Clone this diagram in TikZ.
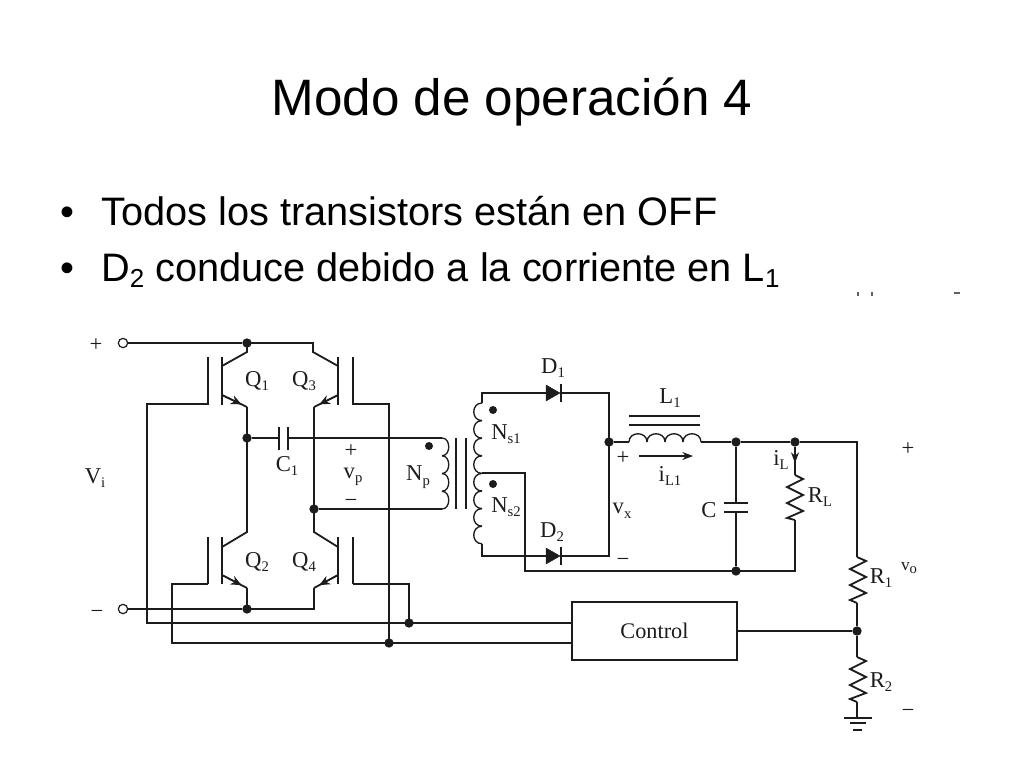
\documentclass[tikz,border=0pt]{standalone}
\usepackage{fontspec}
\setmainfont{Liberation Sans}
\newfontfamily\serf{Liberation Serif}
\usetikzlibrary{arrows.meta,calc}
\newcommand{\subs}[1]{\raisebox{-0.45ex}{\fontsize{11}{12}\selectfont #1}}
\newcommand{\bigsub}[1]{\raisebox{-0.33ex}{\fontsize{19.5}{21}\selectfont #1}}
\definecolor{ink}{HTML}{1C1C1C}
\tikzset{
  wire/.style={draw=ink,line width=1pt},
  thick wire/.style={draw=ink,line width=1.35pt},
  dot/.style={circle,fill=ink,inner sep=0pt,minimum size=7pt},
  term/.style={circle,draw=ink,fill=white,line width=0.9pt,inner sep=0pt,minimum size=7pt},
  lab/.style={inner sep=0pt,text=ink,font=\serf\fontsize{17}{18}\selectfont},
  sym/.style={inner sep=0pt,text=ink,font=\serf\fontsize{17}{18}\selectfont},
  head/.style={inner sep=0pt,anchor=base,font=\fontsize{38.4}{42}\selectfont},
  itemtext/.style={inner sep=0pt,anchor=base west,font=\fontsize{29.8}{32}\selectfont},
  ctrlbox/.style={draw=ink,line width=1pt,inner sep=0pt,minimum width=123.75pt,minimum height=43.5pt,text=ink,font=\serf\fontsize{16.7}{18}\selectfont},
  diodetri/.style={fill=ink,draw=ink,line width=0.3pt},
  emit/.style={wire,-{Stealth[length=8pt,width=7pt]}},
  speck/.style={draw=ink!70,line width=0.8pt}
}
\begin{document}
\begin{tikzpicture}[x=0.75pt,y=-0.75pt]
\useasboundingbox (0,0) rectangle (1024,768);
\fill[white] (0,0) rectangle (1024,768);

% headline and items
\node[head] (title) at (512,115) {Modo de operación 4};
\node[itemtext] (b1) at (60,225) {•};
\node[itemtext] (t1) at (101,225) {Todos los transistors están en OFF};
\node[itemtext] (b2) at (60,281) {•};
\node[itemtext] (t2) at (101,281) {D\bigsub{2} conduce debido a la corriente en L\bigsub{1}};

% junctions and terminals
\node[term] (tp) at (123,343) {};
\node[term] (tm) at (123,609) {};
\node[dot] (jtop) at (247,343) {};
\node[dot] (jmid) at (247,438) {};
\node[dot] (jbot) at (247,609) {};
\node[dot] (jq) at (314,509) {};
\node[dot] (jg4) at (409,623) {};
\node[dot] (jg3) at (389,643) {};
\node[dot] (jx) at (609,442) {};
\node[dot] (jc) at (736,442) {};
\node[dot] (jr) at (795,442) {};
\node[dot] (jcb) at (736,571) {};
\node[dot] (jfb) at (857,631) {};
\node[ctrlbox] (ctrl) at (654.5,631) {Control};

% transistor corners
\coordinate (q1c) at (222,366); \coordinate (q1e) at (222,395);
\coordinate (q3c) at (338,366); \coordinate (q3e) at (338,395);
\coordinate (q2c) at (222,547); \coordinate (q2e) at (222,575);
\coordinate (q4c) at (338,547); \coordinate (q4e) at (338,575);
\coordinate (q1k) at (247,407); \coordinate (q2k) at (247,532); \coordinate (q2l) at (247,588);
\coordinate (q3k) at (314,407); \coordinate (q4k) at (314,532); \coordinate (q4l) at (314,588);

% input rails
\draw[thick wire] (tp) -- (jtop);
\draw[thick wire] (jtop.center) -- (313,343) -- (313,352) -- (q3c);
\draw[thick wire] (jtop.center) -- (247,352) -- (q1c);
\draw[wire] (tm) -- (jbot);
\draw[thick wire] (jbot.center) -- (314,609) -- (q4l);

% transistor bars
\foreach \bx in {222,208,338,353}{
  \draw[thick wire] (\bx,357) -- (\bx,405);
  \draw[thick wire] (\bx,537) -- (\bx,584);
}
% emitters
\draw[thick wire] (q1e) -- (q1k);
\draw[thick wire] (q3e) -- (q3k);
\draw[thick wire] (q2e) -- (q2l);
\draw[thick wire] (q4e) -- (q4l);
\draw[emit] (q1e) -- ($(q1e)!0.78!(q1k)$);
\draw[emit] (q3e) -- ($(q3e)!0.78!(q3k)$) ;
\draw[emit] (q2e) -- ($(q2e)!0.78!(q2l)$);
\draw[emit] (q4e) -- ($(q4e)!0.78!(q4l)$);
% collectors to columns
\draw[thick wire] (q2c) -- (q2k) -- (jmid.center) -- (q1k);
\draw[thick wire] (q4c) -- (q4k) -- (jq.center) -- (q3k);
\draw[thick wire] (jbot.center) -- (q2l);

% gate wiring
\draw[wire] (208,404) -- (147,404) -- (147,623) -- (jg4.center) -- (ctrl.west |- jg4);
\draw[wire] (208,584) -- (172,584) -- (172,643) -- (jg3.center) -- (ctrl.west |- jg3);
\draw[wire] (353,404) -- (389,404) -- (jg3.center);
\draw[wire] (353,584) -- (409,584) -- (jg4.center);

% C1 and primary
\coordinate (c1a) at (279,438); \coordinate (c1b) at (288,438);
\draw[wire] (jmid) -- (c1a);
\draw[thick wire] (279,427) -- (279,450);
\draw[thick wire] (288,427) -- (288,450);
\coordinate (npt) at (442,438); \coordinate (npb) at (442,509);
\draw[wire] (c1b) -- (npt);
\draw[wire] (jq) -- (npb);
\foreach \i in {0,1,2,3}
  \draw[wire] (442,{438+17.75*\i}) .. controls (451,{438+17.75*\i}) and (451,{438+17.75*(\i+1)}) .. (442,{438+17.75*(\i+1)});
% core
\draw[thick wire] (456,438) -- (456,509);
\draw[thick wire] (466,438) -- (466,509);
% secondary
\foreach \i in {0,...,7}
  \draw[wire] (482,{403+17.6*\i}) .. controls (471,{403+17.6*\i}) and (471,{403+17.6*(\i+1)}) .. (482,{403+17.6*(\i+1)});
\coordinate (st) at (482,403); \coordinate (sm) at (482,473); \coordinate (sb) at (482,544);
\coordinate (d1l) at (546,393); \coordinate (d1r) at (560,393);
\coordinate (d2l) at (546,556); \coordinate (d2r) at (560,556);
\draw[wire] (st) -- (482,393) -- (d1l);
\draw[wire] (sb) -- (482,556) -- (d2l);
\draw[diodetri] (546,385) -- (546,401) -- (560,393) -- cycle;
\draw[diodetri] (546,548) -- (546,564) -- (560,556) -- cycle;
\draw[wire] (561,384) -- (561,402);
\draw[wire] (561,547) -- (561,565);
\draw[wire] (d1r) -- (609,393) -- (jx.center) -- (609,556) -- (d2r);
\draw[thick wire] (sm) -- (525,473) -- (525,571) -- (jcb.center);

% inductor
\coordinate (la) at (629,442); \coordinate (lb) at (701,442);
\draw[wire] (jx) -- (la);
\foreach \i in {0,1,2,3}
  \draw[wire] ({629+18*\i},442) .. controls ({629+18*\i},431) and ({629+18*(\i+1)},431) .. ({629+18*(\i+1)},442);
\draw[thick wire] (629,416) -- (700,416);
\draw[thick wire] (629,425) -- (700,425);
\coordinate (cur1) at (639,456); \coordinate (cur2) at (693,456);
\draw[wire,-{Stealth[length=8pt,width=6pt]}] (cur1) -- (cur2);

% output rails
\draw[thick wire] (lb) -- (jc) -- (jr) -- (857,442) -- (857,557);
\draw[thick wire] (jcb.center) -- (795,571) -- (795,520);

% output capacitor
\draw[wire] (jc) -- (736,503);
\draw[wire] (736,512) -- (jcb);
\draw[thick wire] (724,503) -- (748,503);
\draw[thick wire] (724,512) -- (748,512);

% RL
\draw[wire,-{Stealth[length=8pt,width=6pt]}] (jr) -- (795,463);
\draw[wire] (795,460) -- (795,475);
\draw[thick wire] (795,475) -- (803,479) -- (787,487) -- (803,495) -- (787,503) -- (803,511) -- (787,518) -- (795,520);

% R1, R2
\draw[thick wire] (857,557) -- (866,561) -- (850,569) -- (866,577) -- (850,585) -- (866,593) -- (850,600) -- (857,603);
\draw[wire] (857,603) -- (jfb);
\draw[wire] (jfb) -- (ctrl.east |- jfb);
\draw[wire] (jfb) -- (857,657);
\draw[thick wire] (857,657) -- (866,661) -- (850,669) -- (866,677) -- (850,685) -- (866,693) -- (850,699) -- (857,702);
\draw[wire] (857,702) -- (857,718);
% ground
\draw[thick wire] (844,718) -- (872,718);
\draw[wire] (850,723) -- (866,723);
\draw[wire] (853,730) -- (862,730);

% polarity dots
\node[dot,minimum size=6pt] (dp) at (429,446) {};
\node[dot,minimum size=6pt] (ds1) at (493,410) {};
\node[dot,minimum size=6pt] (ds2) at (493,484) {};

% scan specks
\draw[speck] (858,292) -- (858,296);
\draw[speck] (872,292) -- (872,296);
\draw[speck] (954,293) -- (960,293);

% labels
\node[sym] (lp) at (96,345) {+};
\node[sym] (lm) at (97,614) {−};
\node[lab] (lvi) at (95,478) {V\subs{i}};
\node[lab] (lq1) at (257,381) {Q\subs{1}};
\node[lab] (lq3) at (304,381) {Q\subs{3}};
\node[lab] (lq2) at (257,562) {Q\subs{2}};
\node[lab] (lq4) at (304,562) {Q\subs{4}};
\node[lab] (lc1) at (287,466) {C\subs{1}};
\node[sym] (lvp1) at (351,451) {+};
\node[lab] (lvp) at (353,477) {v\subs{p}};
\node[sym] (lvp2) at (351,503) {−};
\node[lab] (lnp) at (418,477) {N\subs{p}};
\node[lab] (ls1) at (506,434) {N\subs{s1}};
\node[lab] (ls2) at (506,507) {N\subs{s2}};
\node[lab] (ld1) at (553,368) {D\subs{1}};
\node[lab] (ld2) at (552,532) {D\subs{2}};
\node[lab] (ll1) at (670,398) {L\subs{1}};
\node[sym] (lxp) at (623,458) {+};
\node[lab] (lil) at (670,476) {i\subs{L1}};
\node[lab] (lvx) at (622,511) {v\subs{x}};
\node[sym] (lxm) at (623,562) {−};
\node[lab] (lcc) at (709,510) {C};
\node[lab] (lir) at (781,460) {i\subs{L}};
\node[lab] (lrl) at (820,497) {R\subs{L}};
\node[sym] (lop) at (908,449) {+};
\node[lab,font=\serf\fontsize{13}{14}\selectfont] (lvo) at (909,568) {v\subs{o}};
\node[lab] (lr1) at (881,578) {R\subs{1}};
\node[lab] (lr2) at (881,682) {R\subs{2}};
\node[sym] (lom) at (908,713) {−};
\end{tikzpicture}
\end{document}
